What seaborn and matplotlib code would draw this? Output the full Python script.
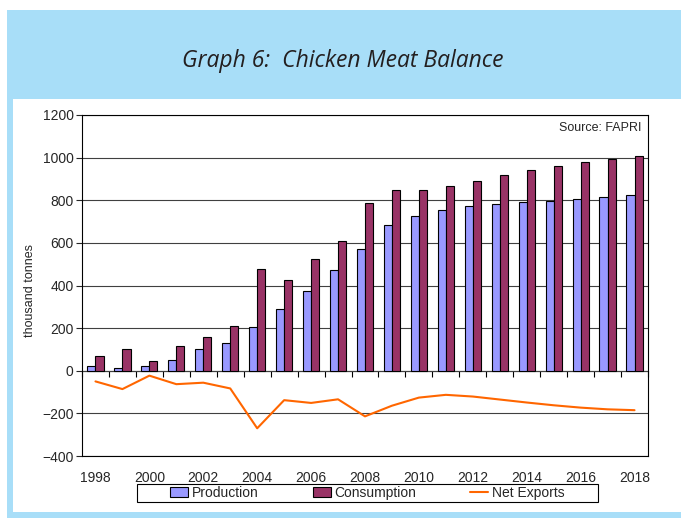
import numpy as np
import pandas as pd
import matplotlib
matplotlib.use('Agg')
import matplotlib.pyplot as plt
from matplotlib.patches import Rectangle
import seaborn as sns

years = [str(y) for y in range(1998, 2019)]
production = [20, 13, 20, 49, 103, 130, 207, 289, 373, 475, 569,
              685, 724, 754, 771, 782, 790, 796, 806, 813, 825]
consumption = [69, 100, 44, 115, 158, 212, 477, 428, 522, 608, 785,
               849, 850, 868, 892, 917, 942, 961, 979, 994, 1009]
net_exports = [-50, -86, -23, -63, -56, -83, -270, -138, -151, -134, -214,
               -164, -126, -113, -121, -135, -149, -162, -173, -181, -185]

sns.set_style('white')
plt.rcParams['font.family'] = ['Liberation Sans', 'DejaVu Sans']

df = pd.DataFrame({
    'Year': years * 2,
    'Series': ['Production'] * len(years) + ['Consumption'] * len(years),
    'Value': production + consumption,
})

fig = plt.figure(figsize=(6.81, 5.18), dpi=100)

# blue frame and title band
blue = '#a8def8'
fig.patches.append(Rectangle((7 / 681, 0), 1, 1 - 10 / 518, transform=fig.transFigure,
                             facecolor=blue, edgecolor='none', zorder=-2))
fig.patches.append(Rectangle((13 / 681, 6 / 518), 1, (512 - 99) / 518, transform=fig.transFigure,
                             facecolor='white', edgecolor='none', zorder=-1))
fig.text(343 / 681, 1 - 61 / 518, 'Graph 6:  Chicken Meat Balance', ha='center', va='center',
         fontsize=16.5, style='italic', color='#231f20', family=['Open Sans', 'DejaVu Sans'])

ax = fig.add_axes([82 / 681, 1 - 456 / 518, 566 / 681, 341 / 518])

sns.barplot(ax=ax, data=df, x='Year', y='Value', hue='Series',
            palette={'Production': '#9999ff', 'Consumption': '#993366'},
            width=0.6, edgecolor='black', linewidth=0.8, saturation=1, zorder=3)
sns.lineplot(ax=ax, x=np.arange(len(years)), y=net_exports, color='#ff6600',
             linewidth=1.5, label='Net Exports', zorder=4)

ax.set_xlim(-0.5, len(years) - 0.5)
ax.set_ylim(-400, 1200)
ax.set_yticks(range(-400, 1201, 200))
ax.yaxis.grid(True, color='#404040', linewidth=0.8)
ax.set_axisbelow(True)
for s in ax.spines.values():
    s.set_visible(True)
    s.set_color('black')
    s.set_linewidth(0.8)
ax.tick_params(axis='y', left=True, direction='out', length=4, width=0.8,
               labelsize=10, pad=2)

# year labels at the bottom, every other year
ax.set_xticks(range(0, len(years), 2))
ax.set_xticklabels(years[::2])
ax.tick_params(axis='x', bottom=True, length=0, labelsize=10, pad=11)

# category axis on the zero line with ticks between categories
zero_frac = 400 / 1600
sec = ax.secondary_xaxis(zero_frac)
sec.set_xticks(np.arange(-0.5, len(years), 1))
sec.set_xticklabels([])
sec.tick_params(direction='out', length=4, width=0.8, color='black')
sec.spines['bottom'].set_linewidth(0.8)
sec.spines['bottom'].set_color('black')

ax.set_xlabel('')
ax.set_ylabel('thousand tonnes', fontsize=9)
ax.yaxis.set_label_coords(-0.082, 0.484)

ax.text(0.989, 0.963, 'Source: FAPRI', transform=ax.transAxes, ha='right', va='center',
        fontsize=9)

# legend below the chart, in a plain box
handles, labels = ax.get_legend_handles_labels()
ax.get_legend().remove()
order = [labels.index(l) for l in ['Production', 'Consumption', 'Net Exports']]
fig.legend([handles[i] for i in order], [labels[i] for i in order],
           loc='center', bbox_to_anchor=(367.5 / 681, 1 - 493 / 518), ncol=3,
           fontsize=10, frameon=False, handlelength=1.3, handletextpad=0.3,
           columnspacing=3.85, borderpad=0, borderaxespad=0)
fig.patches.append(Rectangle((137 / 681, 1 - 502 / 518), 461 / 681, 18 / 518,
                             transform=fig.transFigure, facecolor='none',
                             edgecolor='black', linewidth=0.8))

fig.savefig('out.png', dpi=100)
